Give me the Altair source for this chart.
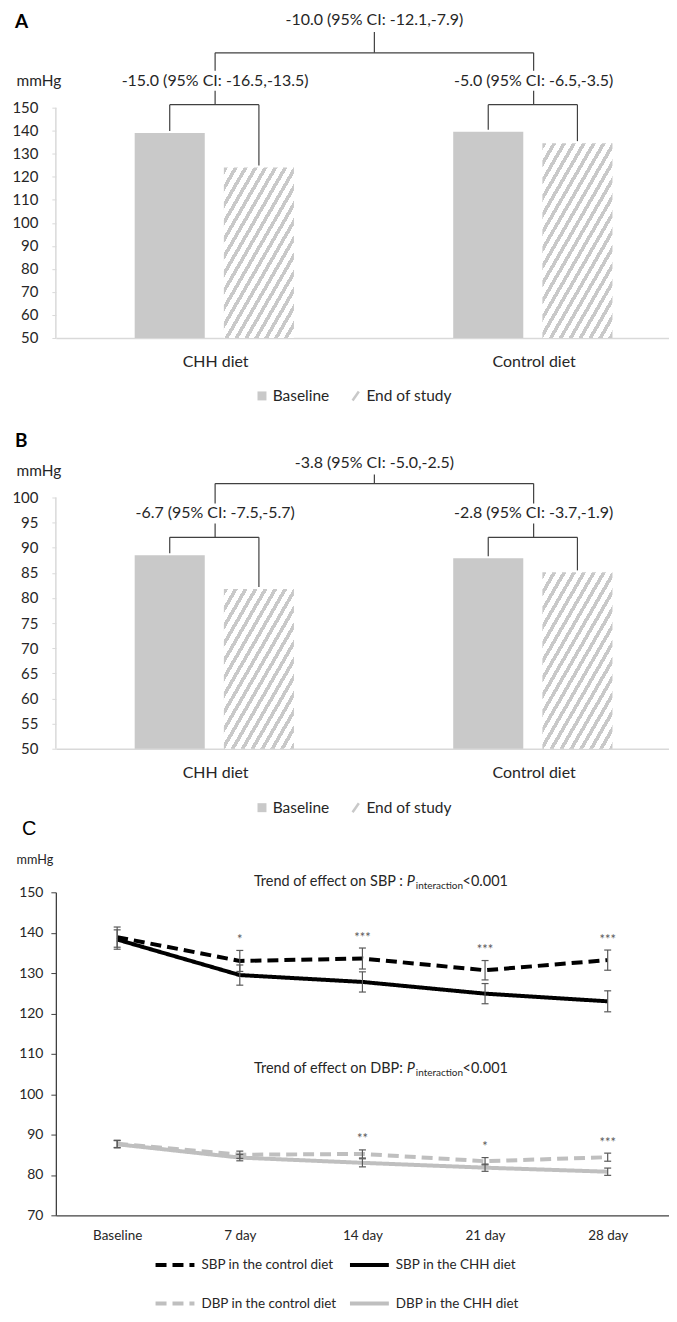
import math
import altair as alt
import pandas as pd

FONT = "Lato"
TXT = "#262626"
BAR = "#c9c9c9"
LIGHT = "#d9d9d9"
DARK = "#404040"
ERR = "#595959"

# ---------------- data ----------------
diets = ["CHH diet", "Control diet"]
conditions = ["Baseline", "End of study"]

sbp_baseline = [139.0, 139.6]
sbp_end = [124.0, 134.6]
sbp_diff_labels = ["-15.0 (95% CI: -16.5,-13.5)", "-5.0 (95% CI: -6.5,-3.5)"]
sbp_between_label = "-10.0 (95% CI: -12.1,-7.9)"

dbp_baseline = [88.5, 87.9]
dbp_end = [81.8, 85.1]
dbp_diff_labels = ["-6.7 (95% CI: -7.5,-5.7)", "-2.8 (95% CI: -3.7,-1.9)"]
dbp_between_label = "-3.8 (95% CI: -5.0,-2.5)"

timepoints = ["Baseline", "7 day", "14 day", "21 day", "28 day"]
series_names = ["SBP in the control diet", "SBP in the CHH diet",
                "DBP in the control diet", "DBP in the CHH diet"]
sbp_control = [138.9, 133.0, 133.6, 130.7, 133.2]
sbp_control_err = [2.5, 2.6, 2.6, 2.4, 2.5]
sbp_chh = [138.3, 129.5, 127.8, 124.9, 123.0]
sbp_chh_err = [2.4, 2.5, 2.5, 2.5, 2.6]
dbp_control = [87.7, 85.0, 85.2, 83.4, 84.4]
dbp_control_err = [0.9, 0.9, 1.0, 0.9, 1.0]
dbp_chh = [87.6, 84.3, 83.0, 81.8, 80.8]
dbp_chh_err = [0.9, 0.8, 1.0, 0.9, 0.9]
sbp_stars = ["", "*", "***", "***", "***"]
dbp_stars = ["", "", "**", "*", "***"]
trend_labels = ["Trend of effect on SBP :", "Trend of effect on DBP:"]
trend_y = [152.5, 106.3]

# ---------------- layout constants ----------------
W = 615
XDOM = [0, 3.85]
PPX = W / (XDOM[1] - XDOM[0])
SLASH = "M-0.7,1L0.7,-1"


def hatch(w, h, theta=60, period=8.6, stripe=3.6, color=BAR):
    s, c = math.sin(math.radians(theta)), math.cos(math.radians(theta))
    L = s * w + c * h
    M = (s * w) ** 2 + (c * h) ** 2
    k = L / M
    a, b = k * s * w, k * c * h
    stops = []
    pos = 0.0
    while pos < L:
        o1 = pos / L
        o2 = min((pos + stripe) / L, 1.0)
        o3 = min((pos + period) / L, 1.0)
        stops += [{"offset": o1, "color": color}, {"offset": o2, "color": color},
                  {"offset": o2, "color": "white"}, {"offset": o3, "color": "white"}]
        pos += period
    return {"gradient": "linear", "x1": 0, "y1": 0, "x2": a, "y2": b, "stops": stops}


def bar_panel(letter, baseline, end, diff_labels, between_label, ymin, ymax, ystep,
              ppu, extra_top, geo, legend_y, title_y, letter_y):
    height = round((ymax - ymin) * ppu + extra_top)
    ytop = ymax + extra_top / ppu

    def yv(px):
        return ymax - px / ppu

    xs = alt.Scale(domain=XDOM, nice=False, zero=False)
    ys = alt.Scale(domain=[ymin, ytop], nice=False, zero=False)
    centers = [2 * i + 1 for i in range(len(diets))]

    x_axis = alt.Axis(values=[float(c) for c in centers],
                      labelExpr="%s[round((datum.value-1)/2)]" % str(diets),
                      ticks=False, grid=False, domainColor=LIGHT, domainWidth=1.5,
                      labelFontSize=16, labelPadding=16, labelColor=TXT, title=None)
    yvals = [float(v) for v in range(int(ymin), int(ymax) + 1, ystep)]
    y_axis = alt.Axis(values=yvals, domain=False, ticks=True, tickColor=LIGHT, tickSize=4,
                      labelFontSize=15, labelPadding=14, labelColor=TXT, grid=False,
                      labelOverlap=False, tickCount=len(yvals),
                      title="mmHg", titleAngle=0, titleAlign="left", titleBaseline="middle",
                      titleX=-40, titleY=title_y, titleFontWeight="normal", titleFontSize=15.5,
                      titleColor=TXT, titleFont=FONT)

    def X(f):
        return alt.X(f, scale=xs, axis=x_axis)

    def Y(f):
        return alt.Y(f, scale=ys, axis=y_axis)

    rows = []
    for i, d in enumerate(diets):
        c = centers[i]
        rows.append(dict(diet=d, cond=conditions[0], x0=c - 0.505, x1=c - 0.065,
                         xm=c - 0.285, v=baseline[i], b=ymin, ym=(baseline[i] + ymin) / 2))
        rows.append(dict(diet=d, cond=conditions[1], x0=c + 0.055, x1=c + 0.495,
                         xm=c + 0.275, v=end[i], b=ymin, ym=(end[i] + ymin) / 2))
    bars = pd.DataFrame(rows)

    leg_def = alt.Legend(title=None, orient="none", legendX=199, legendY=legend_y,
                         direction="horizontal", labelFont=FONT, labelFontSize=15.5,
                         labelColor=TXT, symbolSize=81, symbolStrokeWidth=2.5,
                         columnPadding=17, labelOffset=3, padding=0)
    legend_layer = alt.Chart(bars).mark_point(size=60, strokeWidth=2.5, opacity=1).encode(
        x=X("xm:Q"), y=Y("ym:Q"),
        fill=alt.Fill("cond:N", scale=alt.Scale(domain=conditions, range=[BAR, "transparent"]), legend=leg_def),
        stroke=alt.Stroke("cond:N", scale=alt.Scale(domain=conditions, range=["transparent", BAR]), legend=leg_def),
        shape=alt.Shape("cond:N", scale=alt.Scale(domain=conditions, range=["square", SLASH]), legend=leg_def),
    )

    base_bars = alt.Chart(bars[bars.cond == conditions[0]]).mark_bar(color=BAR).encode(
        x=X("x0:Q"), x2="x1:Q", y=Y("v:Q"), y2="b:Q")

    hatched = []
    for i, d in enumerate(diets):
        sub = bars[(bars.diet == d) & (bars.cond == conditions[1])]
        w = 0.44 * PPX
        h = (end[i] - ymin) * ppu
        hatched.append(alt.Chart(sub).mark_bar(fill=hatch(w, h), strokeWidth=0).encode(
            x=X("x0:Q"), x2="x1:Q", y=Y("v:Q"), y2="b:Q"))

    yline = alt.Chart(pd.DataFrame({"x0": [XDOM[0]], "v": [ymin], "y2": [ymax]})).mark_rule(
        color=LIGHT, strokeWidth=1.5).encode(x=X("x0:Q"), y=Y("v:Q"), y2="y2:Q")

    segs = []
    gap = 2.0 / ppu
    sub_y = yv(geo["sub_h"])
    top_y = yv(geo["top_h"])
    for i in range(len(diets)):
        c = centers[i]
        bx, ex = c - 0.285, c + 0.275
        segs.append(dict(x0=bx, x2=bx, v=sub_y, y2=baseline[i] + gap))
        segs.append(dict(x0=ex, x2=ex, v=sub_y, y2=end[i] + gap))
        segs.append(dict(x0=bx, x2=ex, v=sub_y, y2=sub_y))
        segs.append(dict(x0=c, x2=c, v=top_y, y2=yv(geo["sub_t"] - 10)))
        segs.append(dict(x0=c, x2=c, v=yv(geo["sub_t"] + 10), y2=sub_y))
    mid = sum(centers) / len(centers)
    segs.append(dict(x0=centers[0], x2=centers[-1], v=top_y, y2=top_y))
    segs.append(dict(x0=mid, x2=mid, v=top_y, y2=yv(geo["top_t"] + 12)))
    brackets = alt.Chart(pd.DataFrame(segs)).mark_rule(color=DARK, strokeWidth=1.2).encode(
        x=X("x0:Q"), x2="x2:Q", y=Y("v:Q"), y2="y2:Q")

    trows = [dict(x0=centers[i], v=yv(geo["sub_t"]), t=diff_labels[i]) for i in range(len(diets))]
    trows.append(dict(x0=mid, v=yv(geo["top_t"]), t=between_label))
    texts = alt.Chart(pd.DataFrame(trows)).mark_text(
        font=FONT, fontSize=16, color=TXT, baseline="middle", align="center").encode(
        x=X("x0:Q"), y=Y("v:Q"), text="t:N")

    letter_mark = alt.Chart(pd.DataFrame({"t": [letter]})).mark_text(
        font=FONT, fontSize=19, fontWeight="bold", color="#000000", align="left",
        baseline="middle").encode(x=alt.value(-41), y=alt.value(letter_y), text="t:N")

    return alt.layer(legend_layer, base_bars, *hatched, yline, brackets, texts, letter_mark).properties(
        width=W, height=height)


panel_a = bar_panel("A", sbp_baseline, sbp_end, sbp_diff_labels, sbp_between_label,
                    50, 150, 10, 2.31, 0,
                    dict(sub_h=-3, sub_t=-27, top_h=-55, top_t=-88),
                    legend_y=281, title_y=-27, letter_y=-86)
panel_b = bar_panel("B", dbp_baseline, dbp_end, dbp_diff_labels, dbp_between_label,
                    50, 100, 5, 5.04, 16,
                    dict(sub_h=40, sub_t=16, top_h=-14, top_t=-35),
                    legend_y=319, title_y=-11, letter_y=-41)

# ---------------- panel C ----------------
cs = alt.Scale(domain=[-0.5, len(timepoints) - 0.5], nice=False, zero=False)
cys = alt.Scale(domain=[70, 150], nice=False, zero=False)
cx_axis = alt.Axis(values=list(range(len(timepoints))),
                   labelExpr="%s[datum.value]" % str(timepoints),
                   ticks=False, grid=False, domainColor=DARK, domainWidth=1.3,
                   labelFontSize=13.5, labelPadding=13, labelColor=TXT, title=None)
cy_axis = alt.Axis(values=list(range(70, 151, 10)), grid=False, domainColor=DARK, domainWidth=1.3,
                   tickColor=DARK, tickSize=5, labelFontSize=14, labelPadding=8, labelColor=TXT,
                   labelOverlap=False,
                   title="mmHg", titleAngle=0, titleAlign="left", titleBaseline="middle",
                   titleX=-40, titleY=-33, titleFontWeight="normal", titleFontSize=12.7,
                   titleColor=TXT, titleFont=FONT)


def CX(f):
    return alt.X(f, scale=cs, axis=cx_axis)


def CY(f):
    return alt.Y(f, scale=cys, axis=cy_axis)


vals = [sbp_control, sbp_chh, dbp_control, dbp_chh]
errs = [sbp_control_err, sbp_chh_err, dbp_control_err, dbp_chh_err]
lrows = []
for s, v, e in zip(series_names, vals, errs):
    for i in range(len(timepoints)):
        lrows.append(dict(series=s, idx=i, v=v[i], lo=v[i] - e[i], hi=v[i] + e[i]))
ldf = pd.DataFrame(lrows)

cleg = alt.Legend(title=None, orient="none", legendX=98, legendY=352, columns=2,
                  direction="horizontal",
                  symbolType="stroke", symbolSize=1521, symbolStrokeWidth=4,
                  labelFont=FONT, labelFontSize=13.5, labelColor=TXT,
                  rowPadding=9, columnPadding=5, labelOffset=5, padding=0)

lines = alt.Chart(ldf).mark_line(strokeWidth=4).encode(
    x=CX("idx:Q"), y=CY("v:Q"),
    stroke=alt.Stroke("series:N", scale=alt.Scale(domain=series_names,
                      range=["#000000", "#000000", "#bfbfbf", "#bfbfbf"]), legend=cleg),
    strokeDash=alt.StrokeDash("series:N", scale=alt.Scale(domain=series_names,
                              range=[[11, 6], [1, 0], [11, 6], [1, 0]]), legend=cleg),
    order="idx:Q",
)

ebars = alt.Chart(ldf).mark_rule(color=ERR, strokeWidth=1.2).encode(
    x=CX("idx:Q"), y=CY("lo:Q"), y2="hi:Q")
cap_half = 3.5 / (W / len(timepoints))
caps_rows = []
for r in lrows:
    for yy in (r["lo"], r["hi"]):
        caps_rows.append(dict(idx=r["idx"] - cap_half, x2=r["idx"] + cap_half, v=yy))
caps = alt.Chart(pd.DataFrame(caps_rows)).mark_rule(color=ERR, strokeWidth=1.2).encode(
    x=CX("idx:Q"), x2="x2:Q", y=CY("v:Q"))

srows = []
for stars, a, b in ((sbp_stars, 0, 1), (dbp_stars, 2, 3)):
    for i, st in enumerate(stars):
        if st:
            top = max(vals[a][i] + errs[a][i], vals[b][i] + errs[b][i])
            srows.append(dict(idx=i, v=top + 2.6, t=st))
stars_layer = alt.Chart(pd.DataFrame(srows)).mark_text(
    font=FONT, fontSize=13, color=ERR, baseline="middle").encode(
    x=CX("idx:Q"), y=CY("v:Q"), text="t:N")

tdf = pd.DataFrame({"idx": [2, 2], "v": trend_y, "t": trend_labels,
                    "p": ["P", "P"], "s": ["interaction", "interaction"], "r": ["<0.001", "<0.001"]})
ANCH = 44.5
t_main = alt.Chart(tdf).mark_text(font=FONT, fontSize=14.5, color=TXT, align="right",
                                  baseline="middle", dx=ANCH - 4).encode(
    x=CX("idx:Q"), y=CY("v:Q"), text="t:N")
t_p = alt.Chart(tdf).mark_text(font=FONT, fontSize=14.5, fontStyle="italic", color=TXT,
                               align="left", baseline="middle", dx=ANCH).encode(
    x=CX("idx:Q"), y=CY("v:Q"), text="p:N")
t_s = alt.Chart(tdf).mark_text(font=FONT, fontSize=10, color=TXT, align="left",
                               baseline="middle", dx=ANCH + 9, dy=4).encode(
    x=CX("idx:Q"), y=CY("v:Q"), text="s:N")
t_r = alt.Chart(tdf).mark_text(font=FONT, fontSize=14.5, color=TXT, align="left",
                               baseline="middle", dx=ANCH + 9 + 47).encode(
    x=CX("idx:Q"), y=CY("v:Q"), text="r:N")

c_letter = alt.Chart(pd.DataFrame({"t": ["C"]})).mark_text(
    font="Liberation Sans", fontSize=20, color="#000000", align="left",
    baseline="middle").encode(x=alt.value(-34), y=alt.value(-63), text="t:N")

panel_c = alt.layer(lines, ebars, caps, stars_layer, t_main, t_p, t_s, t_r, c_letter).properties(
    width=W, height=324)

chart = alt.vconcat(panel_a, panel_b, panel_c, spacing=144, bounds="flush").resolve_scale(
    fill="independent", stroke="independent", shape="independent", strokeDash="independent"
).resolve_legend(
    fill="independent", stroke="independent", shape="independent", strokeDash="independent"
).properties(
    padding={"left": 3, "top": 2, "right": 0, "bottom": 0}
).configure_view(stroke=None).configure_axis(labelFont=FONT, titleFont=FONT)

chart.save("out.html", embed_options={"renderer": "svg", "actions": False})
